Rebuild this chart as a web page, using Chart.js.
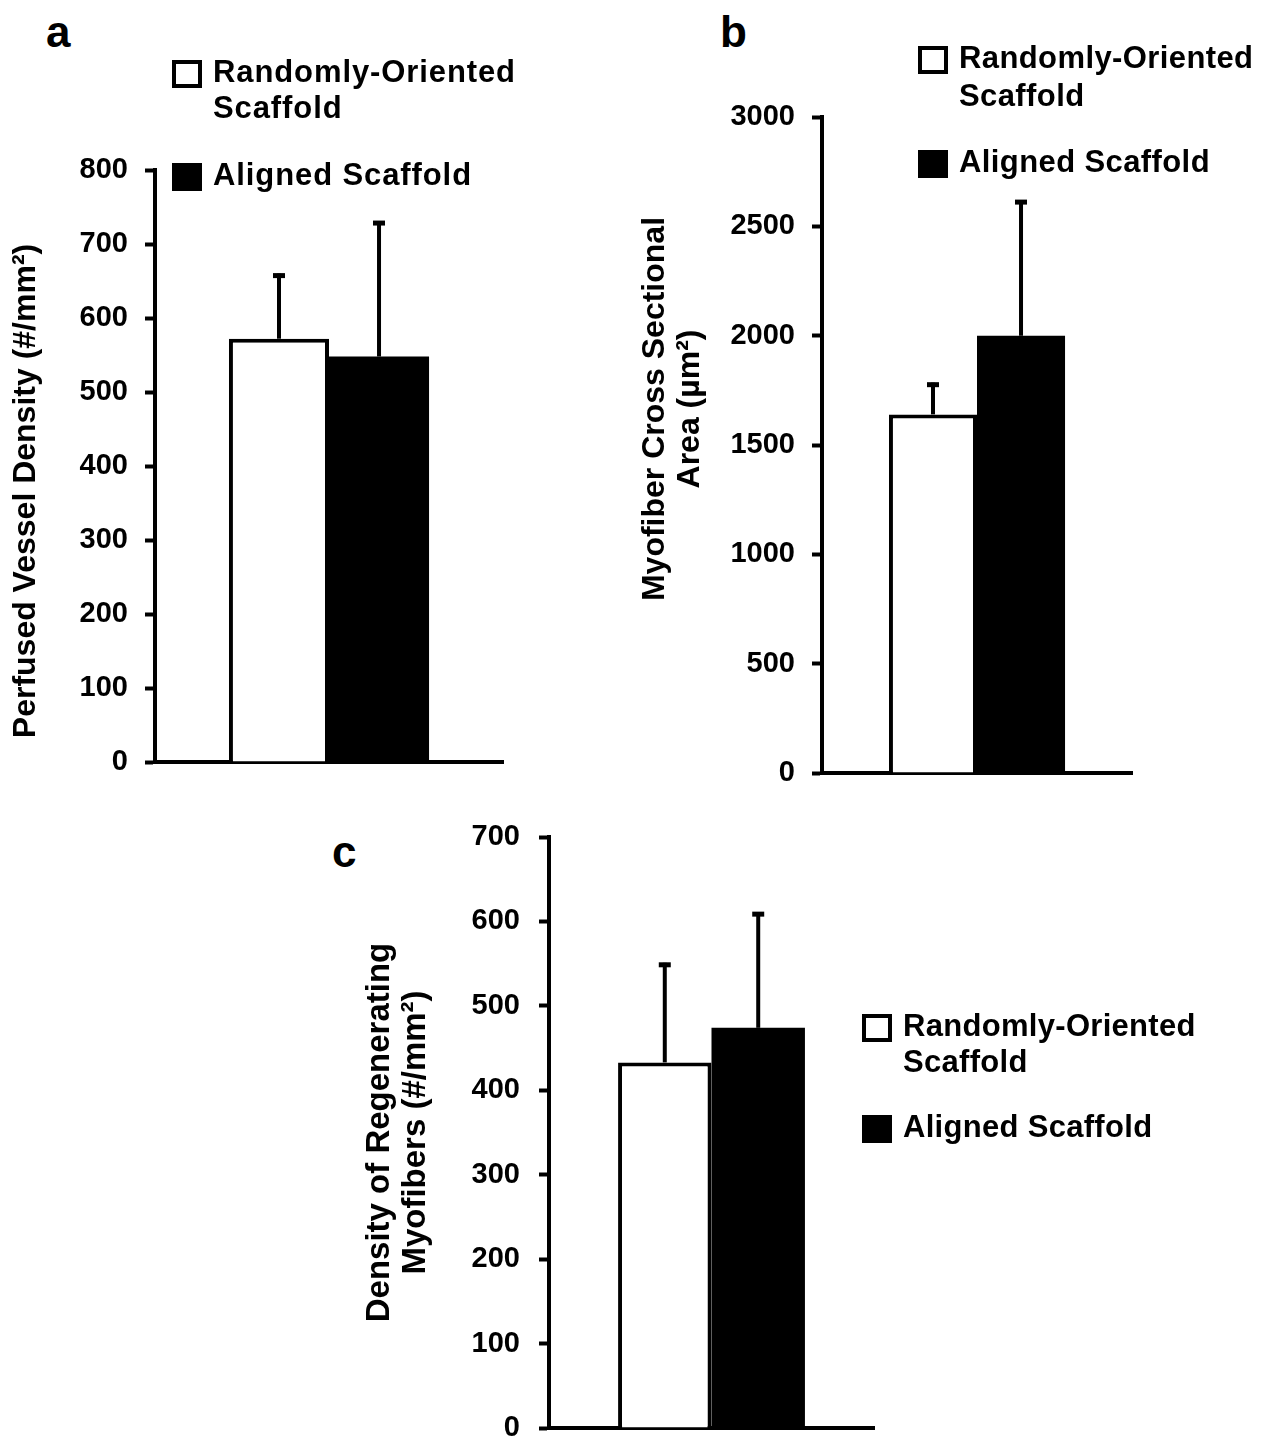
<!DOCTYPE html>
<html>
<head>
<meta charset="utf-8">
<script src="https://cdn.jsdelivr.net/npm/chart.js@4.4.1/dist/chart.umd.min.js"></script>
<style>
  body { margin: 0; background: #fff; width: 1261px; height: 1437px; overflow: hidden; position: relative;
         font-family: "Liberation Sans", Arial, sans-serif; color: #000; }
  .panel { position: absolute; }
  .letter { position: absolute; font-weight: bold; font-size: 44px; line-height: 1; }
  .legend-item { position: absolute; display: flex; align-items: flex-start; font-weight: bold; font-size: 31px; }
  .legend-box { width: 30px; height: 28px; box-sizing: border-box; border: 4px solid #000; margin-right: 11px; flex: none; }
  .legend-text { width: 340px; }
</style>
</head>
<body>
<div class="letter" style="left:46px;top:10px">a</div>
<div class="letter" style="left:720px;top:10px">b</div>
<div class="letter" style="left:332px;top:830px">c</div>

<div class="panel" style="left:0;top:0;width:540px;height:800px"><canvas id="chartA"></canvas></div>
<div class="panel" style="left:620px;top:0;width:641px;height:813px"><canvas id="chartB"></canvas></div>
<div class="panel" style="left:330px;top:800px;width:560px;height:680px"><canvas id="chartC"></canvas></div>

<script>
const seriesNames = ['Randomly-Oriented Scaffold', 'Aligned Scaffold'];
const seriesFill = ['#ffffff', '#000000'];
const categories = [''];

// a: perfused vessel density
const vesselMean = [572, 548];
const vesselErr = [88, 183];
const vesselMax = 800, vesselStep = 100;

// b: myofiber cross sectional area
const areaMean = [1640, 2000];
const areaErr = [145, 620];
const areaMax = 3000, areaStep = 500;

// c: density of regenerating myofibers
const regenMean = [433, 474];
const regenErr = [118, 137];
const regenMax = 700, regenStep = 100;

const FONT = '"Liberation Sans", Arial, sans-serif';

// upward-only error bars with a cap
const errorBars = {
  id: 'errorBars',
  afterDatasetsDraw(chart, args, opts) {
    const ctx = chart.ctx;
    const y = chart.scales.y;
    ctx.save();
    ctx.strokeStyle = '#000';
    chart.data.datasets.forEach((ds, i) => {
      const bar = chart.getDatasetMeta(i).data[0];
      const top = y.getPixelForValue(ds.data[0] + opts.errors[i]);
      ctx.lineWidth = 4;
      ctx.beginPath();
      ctx.moveTo(bar.x, bar.y);
      ctx.lineTo(bar.x, top);
      ctx.stroke();
      ctx.lineWidth = 5;
      ctx.beginPath();
      ctx.moveTo(bar.x - 6, top + 2);
      ctx.lineTo(bar.x + 6, top + 2);
      ctx.stroke();
    });
    ctx.restore();
  }
};

// rotated y-axis title, placed relative to the chart area
const axisTitle = {
  id: 'axisTitle',
  afterDraw(chart, args, opts) {
    const {ctx, chartArea} = chart;
    const cy = (chartArea.top + chartArea.bottom) / 2 + opts.shift;
    ctx.save();
    ctx.fillStyle = '#000';
    ctx.font = `bold ${opts.size}px ${FONT}`;
    ctx.textAlign = 'center';
    ctx.textBaseline = 'middle';
    opts.lines.forEach((line, i) => {
      ctx.save();
      ctx.translate(chartArea.left + opts.offsets[i], cy);
      ctx.rotate(-Math.PI / 2);
      ctx.fillText(line, 0, 0);
      ctx.restore();
    });
    ctx.restore();
  }
};

function makeChart(id, means, errs, yMax, yStep, title, cfg) {
  new Chart(document.getElementById(id), {
    type: 'bar',
    data: {
      labels: categories,
      datasets: seriesNames.map((name, i) => ({
        label: name,
        data: [means[i]],
        backgroundColor: seriesFill[i],
        borderColor: '#000',
        borderWidth: i === 0 ? 4 : 0,
        borderSkipped: 'bottom',
        categoryPercentage: cfg.catPct,
        barPercentage: 1.0
      }))
    },
    options: {
      responsive: true,
      maintainAspectRatio: false,
      animation: false,
      layout: { padding: cfg.padding },
      plugins: {
        legend: { display: false },
        tooltip: { enabled: false },
        errorBars: { errors: errs },
        axisTitle: title
      },
      scales: {
        x: {
          grid: { display: false },
          ticks: { display: false },
          border: { display: true, color: '#000', width: 4 },
          afterFit(scale) { scale.height = 0; }
        },
        y: {
          min: 0,
          max: yMax,
          ticks: {
            stepSize: yStep,
            color: '#000',
            padding: cfg.tickPad,
            font: { family: FONT, size: 29, weight: 'bold' },
            callback: v => String(v)
          },
          grid: { drawOnChartArea: false, drawTicks: true, tickLength: 10, tickWidth: 4, color: '#000' },
          border: { color: '#000', width: 4 },
          afterFit(scale) { scale.width = cfg.axisWidth; }
        }
      }
    },
    plugins: [errorBars, axisTitle]
  });
}

makeChart('chartA', vesselMean, vesselErr, vesselMax, vesselStep,
  { lines: ['Perfused Vessel Density (#/mm²)'], size: 32, offsets: [-129], shift: 25 },
  { padding: { top: 170, right: 37, bottom: 38, left: 0 }, axisWidth: 155, tickPad: 17, catPct: 0.575 });

makeChart('chartB', areaMean, areaErr, areaMax, areaStep,
  { lines: ['Myofiber Cross Sectional', 'Area (µm²)'], size: 32, offsets: [-167, -132], shift: -36 },
  { padding: { top: 117, right: 129, bottom: 40, left: 0 }, axisWidth: 202, tickPad: 17, catPct: 0.568 });

makeChart('chartC', regenMean, regenErr, regenMax, regenStep,
  { lines: ['Density of Regenerating', 'Myofibers (#/mm²)'], size: 33, offsets: [-169, -133], shift: 0 },
  { padding: { top: 37, right: 16, bottom: 52, left: 0 }, axisWidth: 219, tickPad: 19, catPct: 0.575 });

// HTML legends
function makeLegend(left, tops, lineHeight, spacing) {
  seriesNames.forEach((name, i) => {
    const item = document.createElement('div');
    item.className = 'legend-item';
    item.style.left = left + 'px';
    item.style.top = tops[i] + 'px';
    item.style.lineHeight = lineHeight + 'px';
    item.style.letterSpacing = spacing + 'px';
    const box = document.createElement('div');
    box.className = 'legend-box';
    box.style.marginTop = ((lineHeight - 28) / 2 + 2) + 'px';
    box.style.background = seriesFill[i];
    const txt = document.createElement('div');
    txt.className = 'legend-text';
    txt.innerText = name;
    item.appendChild(box);
    item.appendChild(txt);
    document.body.appendChild(item);
  });
}
makeLegend(172, [54, 157], 36, 0.9);
makeLegend(918, [39, 143], 38, 0.4);
makeLegend(862, [1008, 1109], 36, 0.3);
</script>
</body>
</html>
